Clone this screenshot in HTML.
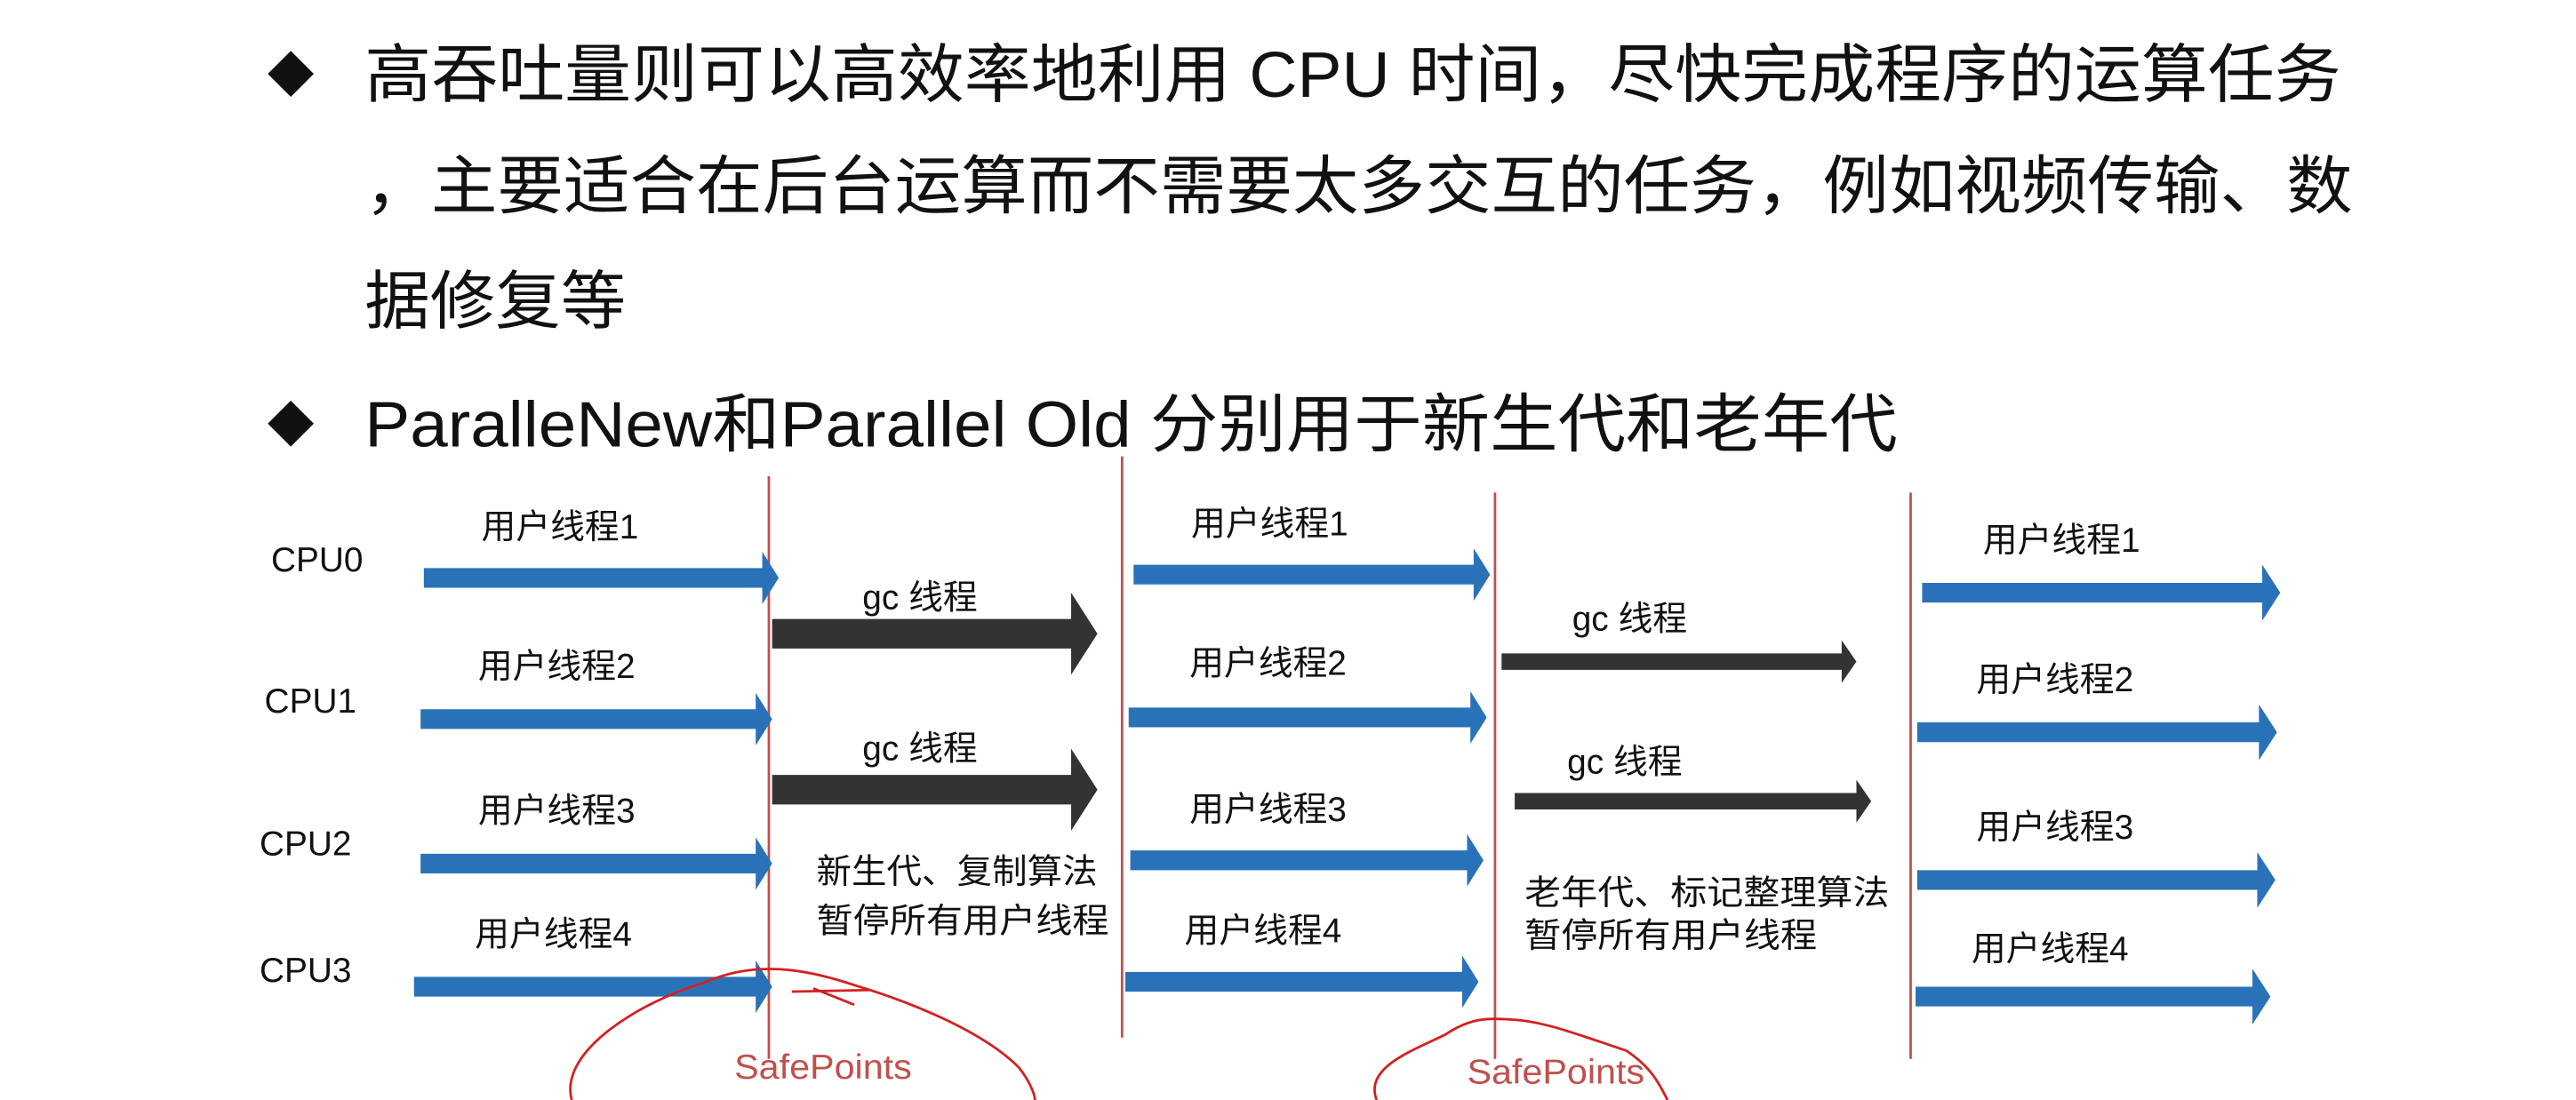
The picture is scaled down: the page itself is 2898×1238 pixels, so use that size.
<!DOCTYPE html>
<html><head><meta charset="utf-8"><style>
html,body{margin:0;padding:0;background:#fff;width:2898px;height:1238px;overflow:hidden}
svg{display:block}
text{font-family:"Liberation Sans","Noto Sans CJK SC",sans-serif}
</style></head><body>
<svg width="2898" height="1238" viewBox="0 0 1568 670" preserveAspectRatio="none">
<g fill="#111" font-size="39">
<path d="M177 31 L191 45 L177 59 L163 45Z"/>
<text x="222" y="59" textLength="1203" lengthAdjust="spacingAndGlyphs">高吞吐量则可以高效率地利用 CPU 时间，尽快完成程序的运算任务</text>
<text x="222" y="127" textLength="1210" lengthAdjust="spacingAndGlyphs">，主要适合在后台运算而不需要太多交互的任务，例如视频传输、数</text>
<text x="222" y="197" textLength="159" lengthAdjust="spacingAndGlyphs">据修复等</text>
<path d="M177 244 L191 258 L177 272 L163 258Z"/>
<text x="222" y="272" textLength="933" lengthAdjust="spacingAndGlyphs">ParalleNew和Parallel Old 分别用于新生代和老年代</text>
</g>
<g stroke="#c0504d" stroke-width="1.5">
<line x1="468" y1="290" x2="468" y2="645"/>
<line x1="683" y1="278" x2="683" y2="632"/>
<line x1="910" y1="300" x2="910" y2="645"/>
<line x1="1163" y1="300" x2="1163" y2="645"/>
</g>
<g font-size="21" fill="#111">
<text x="165" y="348">CPU0</text><text x="161" y="434">CPU1</text>
<text x="158" y="521">CPU2</text><text x="158" y="598">CPU3</text>
</g>
<g fill="#2a72b8">
<path d="M258 346h206v-10l10 16l-10 16v-10h-206z"/>
<path d="M256 432h204v-10l10 16l-10 16v-10h-204z"/>
<path d="M256 520h204v-10l10 16l-10 16v-10h-204z"/>
<path d="M252 595h208v-10l10 16l-10 16v-10h-208z"/>
<path d="M690 344h207v-10l10 16l-10 16v-10h-207z"/>
<path d="M687 431h208v-10l10 16l-10 16v-10h-208z"/>
<path d="M688 518h205v-10l10 16l-10 16v-10h-205z"/>
<path d="M685 592h205v-10l10 16l-10 16v-10h-205z"/>
<path d="M1170 355h207v-11l11 17l-11 17v-11h-207z"/>
<path d="M1167 440h208v-11l11 17l-11 17v-11h-208z"/>
<path d="M1167 530h207v-11l11 17l-11 17v-11h-207z"/>
<path d="M1166 601h205v-11l11 17l-11 17v-11h-205z"/>
</g>
<g fill="#333">
<path d="M470 377h182v-16l16 25l-16 25v-16h-182z"/>
<path d="M470 472h182v-16l16 25l-16 25v-16h-182z"/>
<path d="M914 398h207v-8l9 13l-9 13v-8h-207z"/>
<path d="M922 483h208v-8l9 13l-9 13v-8h-208z"/>
</g>
<g font-size="21" fill="#111">
<text x="293" y="328">用户线程1</text><text x="291" y="413">用户线程2</text>
<text x="291" y="501">用户线程3</text><text x="289" y="576">用户线程4</text>
<text x="725" y="326">用户线程1</text><text x="724" y="411">用户线程2</text>
<text x="724" y="500">用户线程3</text><text x="721" y="574">用户线程4</text>
<text x="1207" y="336">用户线程1</text><text x="1203" y="421">用户线程2</text>
<text x="1203" y="511">用户线程3</text><text x="1200" y="585">用户线程4</text>
<text x="525" y="371">gc 线程</text><text x="525" y="463">gc 线程</text>
<text x="957" y="384">gc 线程</text><text x="954" y="471">gc 线程</text>
<text x="497" y="538" textLength="171" lengthAdjust="spacingAndGlyphs">新生代、复制算法</text><text x="497" y="568" textLength="178" lengthAdjust="spacingAndGlyphs">暂停所有用户线程</text>
<text x="928" y="551" textLength="222" lengthAdjust="spacingAndGlyphs">老年代、标记整理算法</text><text x="928" y="577" textLength="178" lengthAdjust="spacingAndGlyphs">暂停所有用户线程</text>
</g>
<g font-size="21" fill="#c0504d">
<text x="447" y="657" textLength="108" lengthAdjust="spacingAndGlyphs">SafePoints</text><text x="893" y="660" textLength="108" lengthAdjust="spacingAndGlyphs">SafePoints</text>
</g>
<g fill="none" stroke="#d42020" stroke-width="1.5">
<path d="M348 670 C340 640 390 610 430 598 C460 585 490 590 520 600 C560 612 600 630 620 650 C628 660 630 668 630 670"/>
<path d="M482 604 L530 603 M495 602 L520 612"/>
<path d="M838 670 C830 650 860 640 880 630 C895 620 905 620 920 621 C940 622 960 630 990 640 C1005 650 1010 660 1015 670"/>
</g>
</svg>
</body></html>
